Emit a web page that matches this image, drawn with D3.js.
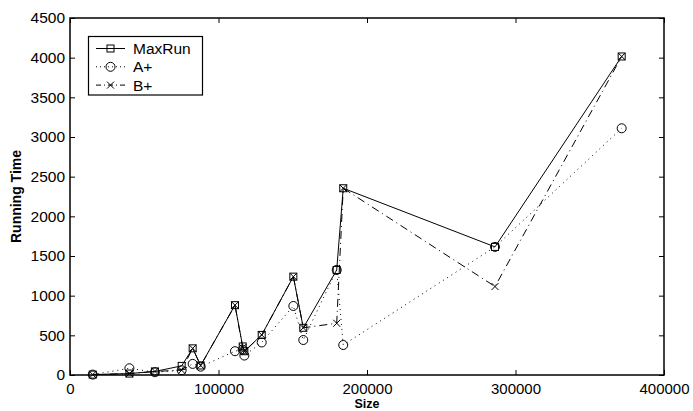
<!DOCTYPE html>
<html><head><meta charset="utf-8">
<script src="https://cdn.jsdelivr.net/npm/d3@7"></script>
<style>body{margin:0;background:#fff}svg{display:block}</style>
</head><body>
<svg id="c" width="693" height="411"></svg>
<script>
const sizes  = [15300, 40000, 57200, 75200, 82600, 88000, 111100, 116300, 117400, 129100, 150400, 157100, 179600, 184000, 286200, 371500];
const maxRun = [5, 18, 45, 115, 336, 120, 880, 360, 300, 505, 1240, 595, 1324, 2354, 1615, 4015];
const aPlus  = [5, 85, 35, 60, 140, 105, 300, 320, 245, 410, 870, 441, 1324, 378, 1615, 3110];
const bPlus  = [5, 18, 45, 60, 336, 120, 880, 345, 295, 505, 1240, 595, 652, 2354, 1115, 4015];
const xTicks = [0, 100000, 200000, 300000, 400000];
const yTicks = [0, 500, 1000, 1500, 2000, 2500, 3000, 3500, 4000, 4500];
const seriesNames = ["MaxRun", "A+", "B+"];

const svg = d3.select("#c");
const L = 70, R = 664, T = 18, B = 375;
const x = d3.scaleLinear().domain([0, 400000]).range([L, R]);
const y = d3.scaleLinear().domain([0, 4500]).range([B, T]);
const font = "'Liberation Sans', Arial, Helvetica, sans-serif";

const series = [
  {name: seriesNames[0], vals: maxRun, dash: null, marker: "square"},
  {name: seriesNames[1], vals: aPlus, dash: "1,4", marker: "circle"},
  {name: seriesNames[2], vals: bPlus, dash: "8,4,1,4", marker: "cross"}
];

function drawMarker(g, type, cx, cy) {
  if (type === "square") {
    g.append("rect").attr("x", cx - 3.5).attr("y", cy - 3.5).attr("width", 7).attr("height", 7)
      .attr("fill", "none").attr("stroke", "#000").attr("stroke-width", 1);
  } else if (type === "circle") {
    g.append("circle").attr("cx", cx).attr("cy", cy).attr("r", 4.5)
      .attr("fill", "none").attr("stroke", "#000").attr("stroke-width", 1);
  } else {
    g.append("path").attr("d", `M${cx-3.5},${cy-3.5}L${cx+3.5},${cy+3.5}M${cx-3.5},${cy+3.5}L${cx+3.5},${cy-3.5}`)
      .attr("stroke", "#000").attr("stroke-width", 1);
  }
}

const plot = svg.append("g");
series.forEach(s => {
  const pts = sizes.map((v, i) => [v, s.vals[i]]);
  plot.append("path").datum(pts)
    .attr("d", d3.line().x(d => x(d[0])).y(d => y(d[1])))
    .attr("fill", "none").attr("stroke", "#000").attr("stroke-width", 1)
    .attr("stroke-dasharray", s.dash);
  const mg = plot.append("g");
  pts.forEach(p => drawMarker(mg, s.marker, x(p[0]), y(p[1])));
});

// axes
const xAxis = svg.append("g").attr("transform", `translate(0,${B})`)
  .call(d3.axisBottom(x).tickValues(xTicks).tickSize(-5).tickPadding(8).tickFormat(d3.format("d")));
const yAxis = svg.append("g").attr("transform", `translate(${L},0)`)
  .call(d3.axisLeft(y).tickValues(yTicks).tickSize(-5).tickPadding(5).tickFormat(d3.format("d")));
const xTop = svg.append("g").attr("transform", `translate(0,${T})`)
  .call(d3.axisTop(x).tickValues(xTicks).tickSize(-5).tickFormat(""));
const yRight = svg.append("g").attr("transform", `translate(${R},0)`)
  .call(d3.axisRight(y).tickValues(yTicks).tickSize(-5).tickFormat(""));
[xAxis, yAxis, xTop, yRight].forEach(a => {
  a.select(".domain").remove();
  a.selectAll("line").attr("stroke", "#000");
  a.selectAll("text").attr("font-family", font).attr("font-size", 15.5).attr("fill", "#000");
});
xAxis.selectAll("text").attr("font-size", 15);
svg.append("rect").attr("x", L).attr("y", T).attr("width", R - L).attr("height", B - T)
  .attr("fill", "none").attr("stroke", "#000").attr("stroke-width", 1.5);

// axis titles
svg.append("text").attr("x", (L + R) / 2).attr("y", 408.3).attr("text-anchor", "middle")
  .attr("font-family", font).attr("font-weight", "bold").attr("font-size", 12.5).text("Size");
svg.append("text").attr("transform", `translate(21,${(T + B) / 2}) rotate(-90)`).attr("text-anchor", "middle")
  .attr("font-family", font).attr("font-weight", "bold").attr("font-size", 14).text("Running Time");

// legend
const lg = svg.append("g");
lg.append("rect").attr("x", 88.5).attr("y", 36.5).attr("width", 114).attr("height", 58.5)
  .attr("fill", "#fff").attr("stroke", "#000").attr("stroke-width", 1.2);
series.forEach((s, i) => {
  const ly = 48.5 + i * 18.3;
  lg.append("line").attr("x1", 96).attr("x2", 125).attr("y1", ly).attr("y2", ly)
    .attr("stroke", "#000").attr("stroke-width", 1).attr("stroke-dasharray", s.dash ? (i === 1 ? "1,3" : "5,3,1,3") : null);
  drawMarker(lg, s.marker, 110.5, ly);
  lg.append("text").attr("x", 133).attr("y", ly).attr("dy", "0.36em")
    .attr("font-family", font).attr("font-size", 15.5).text(s.name);
});
</script>
</body></html>
